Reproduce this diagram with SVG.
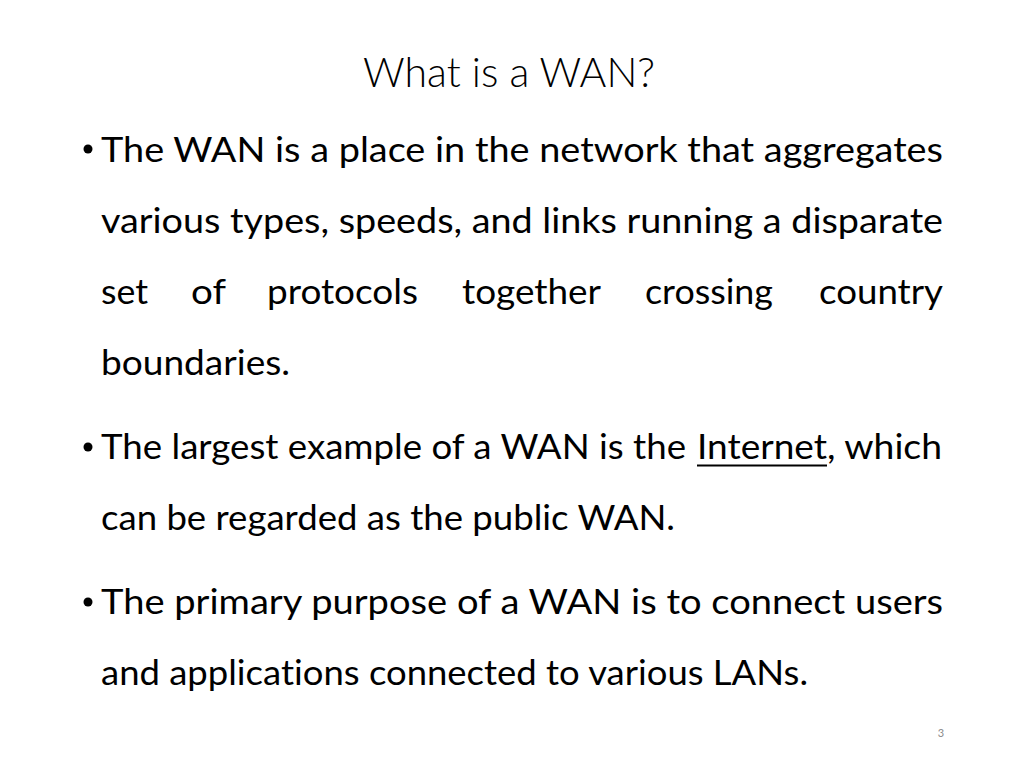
<svg xmlns="http://www.w3.org/2000/svg" width="1024" height="768" viewBox="0 0 1024 768">
<style>
.t{font-family:Lato,"Open Sans","Liberation Sans",sans-serif;fill:#000;font-variant-ligatures:none;}
.title{font-size:41px;font-weight:300;}
.b{font-size:35px;}
.pn{font-family:Lato,"Liberation Sans",sans-serif;font-size:11px;fill:#8c8c8c;}
</style>
<rect width="1024" height="768" fill="#fff"/>
<g id="title">
<text class="t title" x="363" y="87" textLength="292" lengthAdjust="spacingAndGlyphs">What is a WAN?</text>
</g>
<g id="bullet1">
<circle cx="88" cy="149" r="4.5" fill="#000"/>
<text class="t b" x="101" y="162" textLength="842" lengthAdjust="spacingAndGlyphs">The WAN is a place in the network that aggregates</text>
<text class="t b" x="101" y="233" textLength="842" lengthAdjust="spacingAndGlyphs">various types, speeds, and links running a disparate</text>
<text class="t b" x="101" y="304" textLength="47" lengthAdjust="spacingAndGlyphs">set</text>
<text class="t b" x="191" y="304" textLength="35" lengthAdjust="spacingAndGlyphs">of</text>
<text class="t b" x="267" y="304" textLength="151" lengthAdjust="spacingAndGlyphs">protocols</text>
<text class="t b" x="462" y="304" textLength="139" lengthAdjust="spacingAndGlyphs">together</text>
<text class="t b" x="645" y="304" textLength="128" lengthAdjust="spacingAndGlyphs">crossing</text>
<text class="t b" x="819" y="304" textLength="124" lengthAdjust="spacingAndGlyphs">country</text>
<text class="t b" x="101" y="375" textLength="189" lengthAdjust="spacingAndGlyphs">boundaries.</text>
</g>
<g id="bullet2">
<circle cx="88" cy="447" r="4.5" fill="#000"/>
<text class="t b" x="101" y="459" textLength="585" lengthAdjust="spacingAndGlyphs">The largest example of a WAN is the</text>
<text class="t b" x="697" y="459" textLength="130" lengthAdjust="spacingAndGlyphs">Internet</text>
<line x1="697" y1="465.5" x2="827" y2="465.5" stroke="#000" stroke-width="2"/>
<text class="t b" x="827" y="459" textLength="115" lengthAdjust="spacingAndGlyphs">, which</text>
<text class="t b" x="101" y="530" textLength="574" lengthAdjust="spacingAndGlyphs">can be regarded as the public WAN.</text>
</g>
<g id="bullet3">
<circle cx="88" cy="602" r="4.5" fill="#000"/>
<text class="t b" x="101" y="614" textLength="842" lengthAdjust="spacingAndGlyphs">The primary purpose of a WAN is to connect users</text>
<text class="t b" x="101" y="685" textLength="707" lengthAdjust="spacingAndGlyphs">and applications connected to various LANs.</text>
</g>
<g id="page">
<text class="pn" x="941" y="737" text-anchor="middle">3</text>
</g>
</svg>
